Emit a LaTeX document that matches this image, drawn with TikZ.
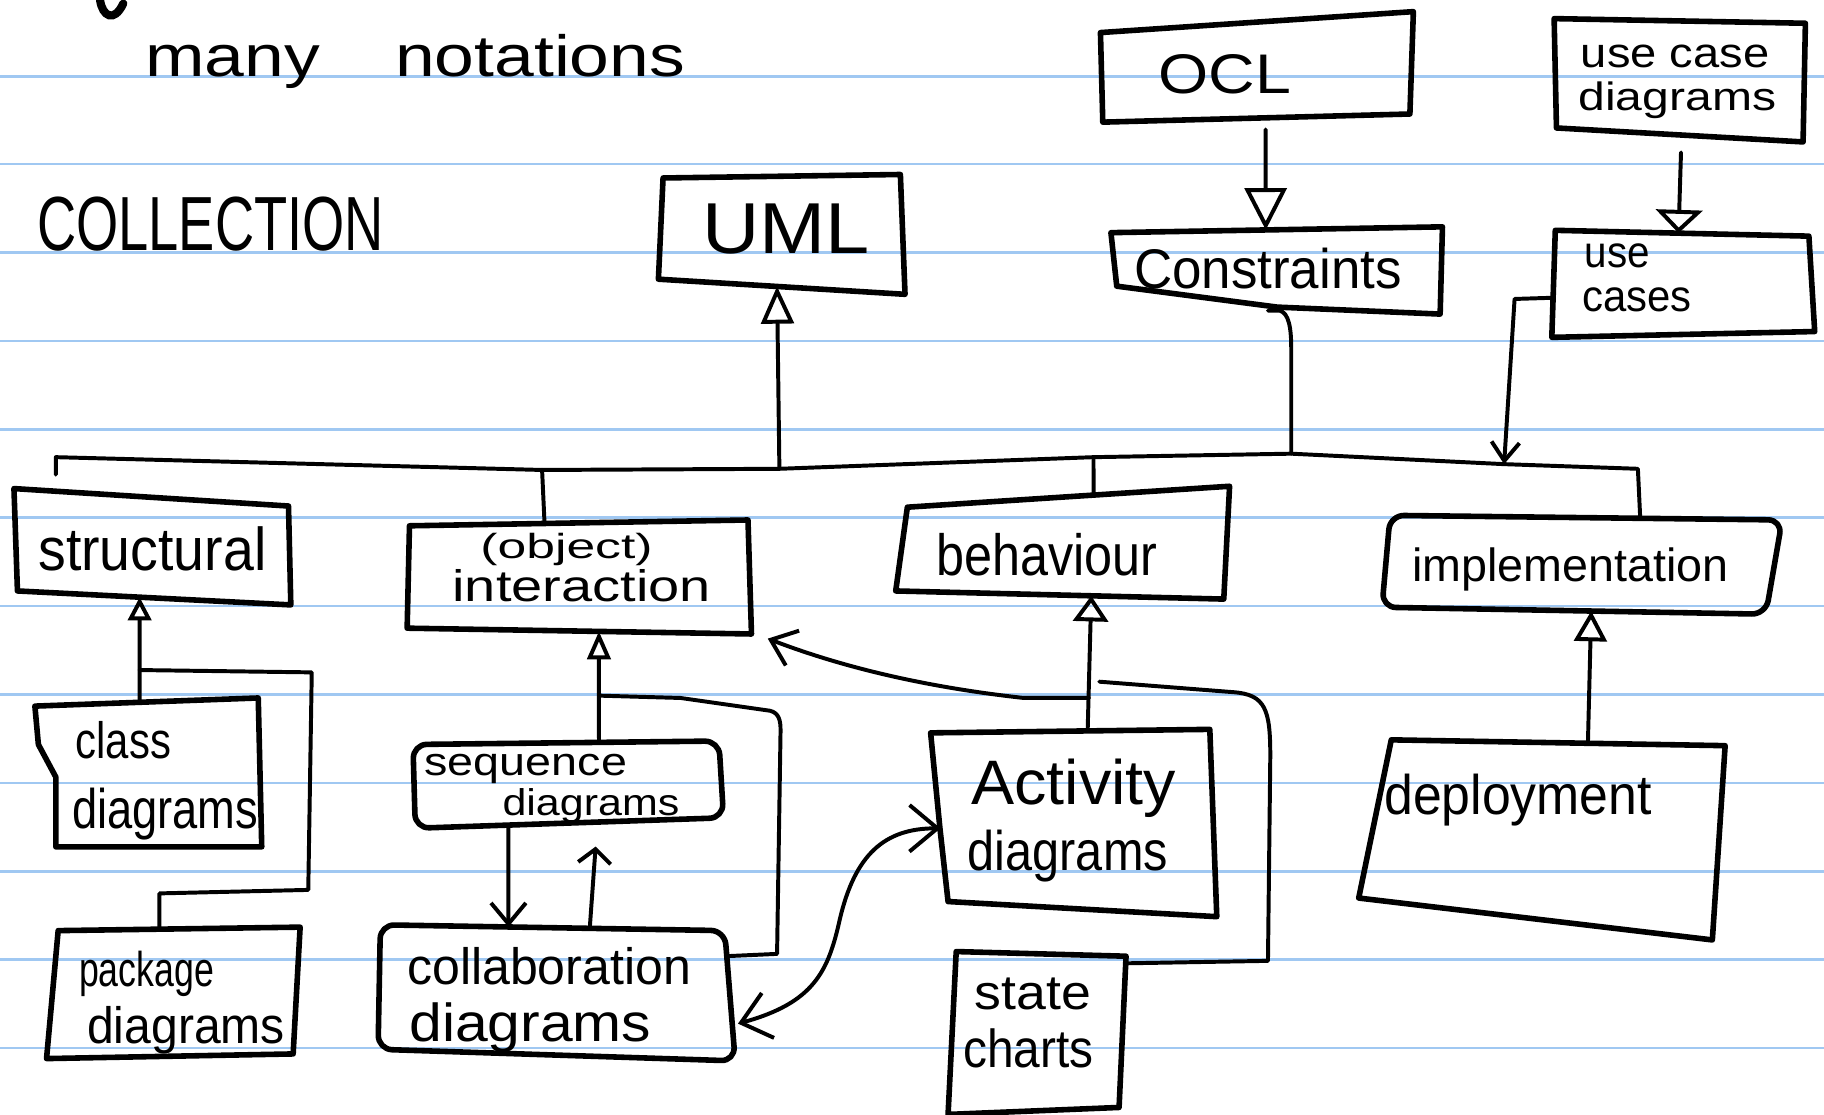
\documentclass[tikz,border=0pt]{standalone}
\usepackage{fontspec}
\setmainfont{Liberation Sans}
\usepackage{graphicx}
\usetikzlibrary{arrows.meta,calc}
\definecolor{ruled}{RGB}{160,200,242}
\newcommand\hw[3]{{\fontsize{#1}{#1}\selectfont\resizebox{#2}{\height}{#3}}}
\newcommand\qbox[6][]{%
  \coordinate (#2-nw) at (#3); \coordinate (#2-ne) at (#4);
  \coordinate (#2-se) at (#5); \coordinate (#2-sw) at (#6);
  \draw[boxline,#1] (#2-nw) -- (#2-ne) -- (#2-se) -- (#2-sw) -- cycle;}
\tikzset{
  boxline/.style={line width=2.4pt, line join=round, line cap=round},
  conn/.style={line width=1.7pt, line join=round, line cap=round},
  txt/.style={inner sep=0pt, anchor=base},
}
\begin{document}
\begin{tikzpicture}[x=0.5pt,y=-0.5pt]
\useasboundingbox (0,0) rectangle (1568,958);
\fill[white] (0,0) rectangle (1568,958);
\foreach \yy in {66,141,217,293,369,445,521,597,673,749,825,901}
  \draw[ruled, line width=1.1pt] (0,\yy) -- (1568,\yy);

% cut-off stroke at top left
\draw[line width=3.5pt, line cap=round] (86,0) .. controls (88,14) and (98,20) .. (106,3);

% boxes
\qbox{uml}{570,153}{774,150}{778,253}{566,240}
\qbox{ocl}{946,28}{1215,10}{1212,98}{948,105}
\qbox{ucd}{1336,16}{1552,20}{1550,122}{1338,110}
\coordinate (cons-nw) at (955,200); \coordinate (cons-ne) at (1240,195);
\coordinate (cons-se) at (1238,270); \coordinate (cons-mid) at (1098,264);
\coordinate (cons-sw) at (960,246);
\draw[boxline] (cons-nw) -- (cons-ne) -- (cons-se) -- (cons-mid) -- (cons-sw) -- cycle;
\qbox{uc}{1337,198}{1555,203}{1560,285}{1334,290}
\qbox{str}{12,420}{248,435}{250,520}{15,508}
\qbox{int}{352,452}{643,447}{646,545}{350,540}
\qbox{beh}{780,436}{1057,418}{1052,515}{770,508}
\qbox[rounded corners=6pt]{imp}{1195,443}{1532,447}{1518,528}{1188,522}
\coordinate (cls-nw) at (30,607); \coordinate (cls-ne) at (222,600);
\coordinate (cls-se) at (225,728); \coordinate (cls-sw) at (48,728);
\draw[boxline] (cls-nw) -- (cls-ne) -- (cls-se) -- (cls-sw) -- (48,668) -- (33,640) -- cycle;
\qbox{pkg}{50,800}{258,797}{252,906}{40,910}
\qbox[rounded corners=6pt]{seq}{355,640}{618,637}{622,703}{357,712}
\qbox[rounded corners=6pt]{col}{327,795}{623,800}{632,912}{325,902}
\coordinate (act-nw) at (800,630); \coordinate (act-ne) at (1040,627);
\coordinate (act-se) at (1046,788); \coordinate (act-sw) at (815,775);
\draw[boxline] (act-nw) -- (act-ne) -- (act-se) -- (act-sw) -- (808,712) -- cycle;
\qbox{sc}{822,818}{968,822}{962,952}{815,958}
\qbox{dep}{1196,636}{1483,641}{1472,808}{1168,772}

% texts
\node[txt] (t-many) at (357,66) {\hw{25pt}{232pt}{many\hspace{1.05em}notations}};
\node[txt] (t-coll) at (181,215) {\hw{33pt}{149pt}{COLLECTION}};
\node[txt] (t-uml) at (676,218) {\hw{31pt}{72pt}{UML}};
\node[txt] (t-ocl) at (1053,80) {\hw{24pt}{57pt}{OCL}};
\node[txt] (t-ucd1) at (1440,58) {\hw{18pt}{81pt}{use case}};
\node[txt] (t-ucd2) at (1442,95) {\hw{17pt}{85pt}{diagrams}};
\node[txt] (t-cons) at (1090,248) {\hw{24pt}{115pt}{Constraints}};
\node[txt, anchor=base west] (t-uc1) at (1362,230) {\hw{19pt}{28pt}{use}};
\node[txt, anchor=base west] (t-uc2) at (1360,268) {\hw{19pt}{47pt}{cases}};
\node[txt] (t-str) at (131,490) {\hw{26pt}{98pt}{structural}};
\node[txt] (t-int1) at (487,480) {\hw{15pt}{74pt}{(object)}};
\node[txt] (t-int2) at (500,517) {\hw{19pt}{111pt}{interaction}};
\node[txt] (t-beh) at (900,495) {\hw{25pt}{95pt}{behaviour}};
\node[txt] (t-imp) at (1350,500) {\hw{20pt}{136pt}{implementation}};
\node[txt] (t-cls1) at (106,652) {\hw{22pt}{41pt}{class}};
\node[txt] (t-cls2) at (142,712) {\hw{24pt}{80pt}{diagrams}};
\node[txt] (t-pkg1) at (126,848) {\hw{21pt}{58pt}{package}};
\node[txt] (t-pkg2) at (160,897) {\hw{22pt}{85pt}{diagrams}};
\node[txt] (t-seq1) at (452,667) {\hw{17pt}{87pt}{sequence}};
\node[txt] (t-seq2) at (508,701) {\hw{16pt}{76pt}{diagrams}};
\node[txt] (t-col1) at (472,846) {\hw{22pt}{122pt}{collaboration}};
\node[txt] (t-col2) at (456,895) {\hw{23pt}{104pt}{diagrams}};
\node[txt] (t-act1) at (923,692) {\hw{27pt}{88pt}{Activity}};
\node[txt] (t-act2) at (918,748) {\hw{24pt}{86pt}{diagrams}};
\node[txt] (t-sc1) at (888,868) {\hw{21pt}{50pt}{state}};
\node[txt] (t-sc2) at (884,918) {\hw{23pt}{56pt}{charts}};
\node[txt] (t-dep) at (1305,700) {\hw{24pt}{115pt}{deployment}};

% bus
\coordinate (j0) at (48,408); \coordinate (j0b) at (48,393);
\coordinate (j1) at (466,404); \coordinate (j2) at (670,403);
\coordinate (j3) at (940,393); \coordinate (j4) at (1110,390);
\coordinate (j5) at (1293,399); \coordinate (j6) at (1408,403);
\draw[conn] (j0) -- (j0b) -- (j1) -- (j2) -- (j3) -- (j4) -- (j5) -- (j6) -- ($(imp-nw)!0.638!(imp-ne)$);
\draw[conn] (j1) -- ($(int-nw)!0.399!(int-ne)$);
\draw[conn,-{Triangle[open,length=16pt,width=14pt]}] (j2) -- ($(uml-sw)!0.481!(uml-se)$);
\draw[conn] (j3) -- ($(beh-nw)!0.578!(beh-ne)$);
\draw[conn] ($(cons-mid)+(-8,3)$) -- ($(cons-mid)+(2,3)$) .. controls ($(cons-mid)+(10,5)$) and (1110,282) .. (1110,300) -- (j4);
\draw[conn,-{Straight Barb[length=8pt,width=12pt]}] ($(uc-nw)!0.63!(uc-sw)$) -- (1302,257) -- (j5);

% generalisations
\draw[conn,-{Triangle[open,length=18pt,width=18pt]}] ($(ocl-sw)!0.53!(ocl-se)+(0,10)$) -- ($(cons-nw)!0.467!(cons-ne)$);
\draw[conn,-{Triangle[open,length=10pt,width=20pt]}] ($(ucd-sw)!0.505!(ucd-se)+(0,15)$) -- ($(uc-nw)!0.486!(uc-ne)$);
\draw[conn,-{Triangle[open,length=10pt,width=10pt]}] ($(cls-nw)!0.469!(cls-ne)$) -- ($(str-sw)!0.447!(str-se)$);
\coordinate (j7) at (120,576);
\draw[conn] (j7) -- (268,578) -- (265,765) -- (137,768) -- ($(pkg-nw)!0.418!(pkg-ne)$);
\draw[conn,-{Triangle[open,length=12pt,width=10pt]}] ($(seq-nw)!0.608!(seq-ne)$) -- ($(int-sw)!0.557!(int-se)$);
\coordinate (j8) at (515,598);
\draw[conn] (j8) -- (585,600) -- (662,611) .. controls (670,613) and (671,620) .. (671,628) -- (668,820) -- ($(col-ne)!0.196!(col-se)$);
\draw[conn,-{Straight Barb[length=9pt,width=15pt]}] ($(seq-sw)!0.302!(seq-se)$) -- ($(col-nw)!0.372!(col-ne)$);
\draw[conn,-{Straight Barb[length=6pt,width=14pt]}] ($(col-nw)!0.608!(col-ne)$) -- ($(seq-sw)!0.585!(seq-se)+(0,21)$);
\draw[conn,-{Triangle[open,length=11pt,width=15pt]}] ($(act-nw)!0.5625!(act-ne)$) -- ($(beh-sw)!0.596!(beh-se)$);
\coordinate (j9) at (936,600);
\draw[conn,-{Straight Barb[length=10pt,width=16pt]}] (j9) -- (880,600) .. controls (790,590) and (720,572) .. (660,549);
\draw[conn] ($(sc-ne)!0.047!(sc-se)$) -- (1090,826) -- (1092,650) .. controls (1092,610) and (1088,597) .. (1060,595) -- (945,586);
\draw[conn,{Straight Barb[length=12pt,width=20pt]}-{Straight Barb[length=12pt,width=20pt]}] ($(col-ne)!0.714!(col-se)+(5,0)$) .. controls (700,862) and (712,835) .. (722,790) .. controls (735,735) and (760,712) .. ($(act-nw)!0.566!(act-sw)$);
\draw[conn,-{Triangle[open,length=13pt,width=14pt]}] ($(dep-nw)!0.589!(dep-ne)$) -- ($(imp-sw)!0.545!(imp-se)$);
\end{tikzpicture}
\end{document}
